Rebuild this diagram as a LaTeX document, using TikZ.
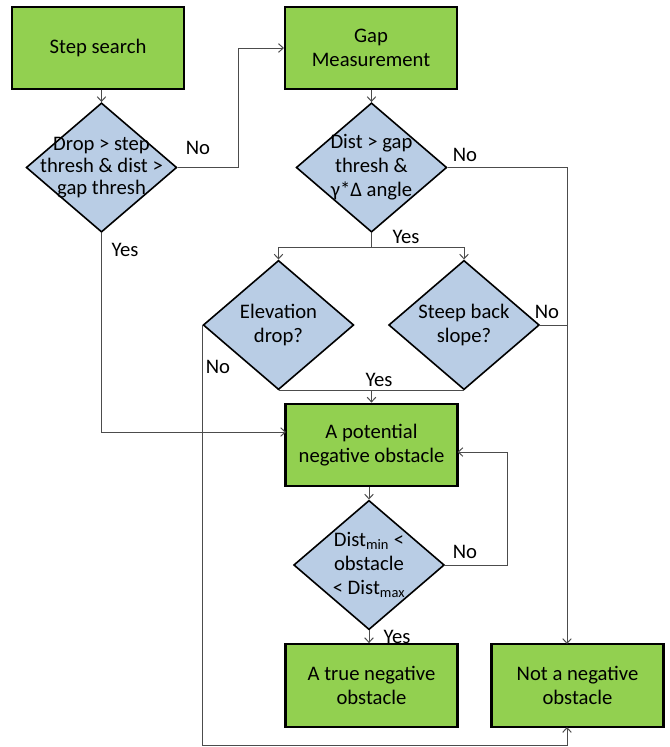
\documentclass[tikz,border=0pt]{standalone}
\usepackage{fontspec}
\setmainfont{Carlito}
\usetikzlibrary{shapes.geometric,arrows.meta}
\definecolor{boxgreen}{RGB}{146,208,80}
\definecolor{diamondblue}{RGB}{185,205,229}
\tikzset{
  greenbox/.style={
    draw, rectangle, fill=boxgreen, minimum width=129pt, minimum height=62pt,
    line width=1.6pt, align=center, font=\fontsize{15.5}{18}\selectfont
  },
  bluediamond/.style={
    draw, diamond, fill=diamondblue, minimum width=113pt, minimum height=97pt,
    inner sep=-12pt, line width=1.2pt, align=center, font=\fontsize{15.5}{18}\selectfont
  },
  mylabel/.style={
    inner sep=0pt, font=\fontsize{15.5}{18}\selectfont
  },
  conn/.style={
    draw=black!70, line width=0.75pt
  }
}

\begin{document}
\begin{tikzpicture}[x=0.75pt,y=-0.75pt,>={Straight Barb[length=3.5pt,width=6.5pt]}]
   \useasboundingbox (0,0) rectangle (669,747);

   \node[greenbox] (step) at (98,48) {Step search};
   \node[greenbox] (gap) at (371,48) {Gap\\Measurement};
   \node[bluediamond, font=\fontsize{15.5}{16.5}\selectfont] (drop) at (101.5,167.5) {Drop > step\\thresh \& dist >\\gap thresh};
   \node[bluediamond] (dist) at (371.5,167.5) {Dist > gap\\thresh \&\\γ*Δ angle};
   \node[bluediamond] (elev) at (278.5,325) {Elevation\\drop?};
   \node[bluediamond] (steep) at (464,325) {Steep back\\slope?};
   \node[greenbox] (pot) at (371.5,445) {A potential\\negative obstacle};
   \node[bluediamond] (range) at (369,565) {Dist\textsubscript{min} <\\obstacle\\< Dist\textsubscript{max}};
   \node[greenbox] (true) at (371.5,685.5) {A true negative\\obstacle};
   \node[greenbox] (notneg) at (577.5,685.5) {Not a negative\\obstacle};

   \coordinate (potin) at (286,432);
   \coordinate (potloop) at (457.5,452);
   \coordinate (notin) at (567,644);
   \coordinate (notout) at (567,727);

   \draw[conn,->] (step.south -| drop.north) -- (drop.north);
   \draw[conn,->] (drop.east) -- ++(61,0) |- (gap.west);
   \draw[conn,->] (gap.south -| dist.north) -- (dist.north);
   \draw[conn,->] (dist.south) -- ++(0,15) -| (elev.north);
   \draw[conn,->] (dist.south) ++(0,15) -| (steep.north);
   \draw[conn,->] (dist.east) -| (notin);
   \draw[conn] (steep.east) -- (steep.east -| notin);
   \draw[conn,->] (elev.west) -- (elev.west |- 0,745.5) -| (notout);
   \draw[conn] (elev.south) -- (steep.south);
   \draw[conn,->] (pot.north |- elev.south) -- (pot.north);
   \draw[conn,->] (drop.south) |- (potin);
   \draw[conn,->] (pot.south -| range.north) -- (range.north);
   \draw[conn,->] (range.east) -- ++(62,0) |- (potloop);
   \draw[conn,->] (range.south) -- (range.south |- true.north);

   \node[mylabel] (no1) at (198,148) {No};
   \node[mylabel] (yes1) at (125,250) {Yes};
   \node[mylabel] (no2) at (465,155) {No};
   \node[mylabel] (yes2) at (406,237) {Yes};
   \node[mylabel] (no3) at (547,312) {No};
   \node[mylabel] (no4) at (218,367) {No};
   \node[mylabel] (yes3) at (379,380) {Yes};
   \node[mylabel] (no5) at (465,552) {No};
   \node[mylabel] (yes4) at (397,637) {Yes};
\end{tikzpicture}
\end{document}
